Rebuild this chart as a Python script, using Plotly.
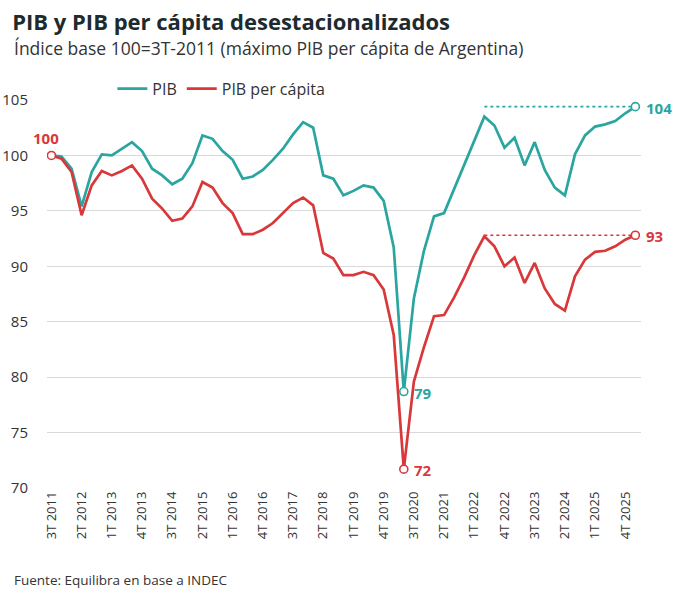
import plotly.graph_objects as go

# quarterly categories 3T 2011 .. 1T 2026
QUARTERS = (
    ["3T 2011", "4T 2011"]
    + [f"{q}T {y}" for y in range(2012, 2026) for q in (1, 2, 3, 4)]
    + ["1T 2026"]
)

PIB = [
    100.0, 99.9, 98.8, 95.4, 98.5, 100.1, 100.0, 100.6, 101.2, 100.4,
    98.8, 98.2, 97.4, 97.9, 99.3, 101.8, 101.5, 100.4, 99.6, 97.9,
    98.1, 98.7, 99.6, 100.6, 101.9, 103.0, 102.5, 98.2, 97.9, 96.4,
    96.8, 97.3, 97.1, 95.9, 91.7, 78.7, 87.1, 91.4, 94.5, 94.8,
    97.0, 99.2, 101.4, 103.5, 102.7, 100.7, 101.6, 99.1, 101.2, 98.7,
    97.1, 96.4, 100.1, 101.8, 102.6, 102.8, 103.1, 103.8, 104.4,
]

PIB_PC = [
    100.0, 99.7, 98.5, 94.6, 97.3, 98.6, 98.2, 98.6, 99.1, 97.9,
    96.1, 95.2, 94.1, 94.3, 95.4, 97.6, 97.1, 95.7, 94.8, 92.9,
    92.9, 93.3, 93.9, 94.8, 95.7, 96.2, 95.5, 91.2, 90.7, 89.2,
    89.2, 89.5, 89.2, 87.9, 83.8, 71.7, 79.6, 82.7, 85.5, 85.6,
    87.2, 89.0, 91.0, 92.7, 91.8, 90.0, 90.8, 88.5, 90.3, 88.0,
    86.6, 86.0, 89.1, 90.6, 91.3, 91.4, 91.8, 92.4, 92.8,
]

TICK_LABELS = QUARTERS[:-1:3]
Y_TICKS = [70, 75, 80, 85, 90, 95, 100, 105]

TEAL = "#2aa59f"
RED = "#d9383a"
FONT = "Open Sans"
TEXT = "#333333"

# post-pandemic peak (2T 2022) is where the dotted guides start
peak_i = 36 + PIB[36:50].index(max(PIB[36:50]))
low_i = PIB.index(min(PIB))
last_i = len(QUARTERS) - 1

fig = go.Figure()

fig.add_trace(go.Scatter(x=QUARTERS, y=PIB, mode="lines", name="PIB",
                         line=dict(color=TEAL, width=2.7)))
fig.add_trace(go.Scatter(x=QUARTERS, y=PIB_PC, mode="lines", name="PIB per cápita",
                         line=dict(color=RED, width=2.7)))

# dotted guides at the latest value, back to the 2022 peak
for series, color in [(PIB, TEAL), (PIB_PC, RED)]:
    fig.add_trace(go.Scatter(
        x=[QUARTERS[peak_i], QUARTERS[last_i]],
        y=[series[last_i], series[last_i]],
        mode="lines", line=dict(color=color, width=1.6, dash="dot"),
        showlegend=False, hoverinfo="skip",
    ))

# open circle markers
for series, color, idx in [(PIB, TEAL, [low_i, last_i]),
                           (PIB_PC, RED, [0, low_i, last_i])]:
    fig.add_trace(go.Scatter(
        x=[QUARTERS[i] for i in idx], y=[series[i] for i in idx],
        mode="markers", showlegend=False, hoverinfo="skip",
        marker=dict(size=8, color="white", line=dict(color=color, width=1.6)),
    ))

labels = [
    (QUARTERS[0], PIB_PC[0], "100", RED, -5, 17, "center"),
    (QUARTERS[low_i], PIB[low_i], "79", TEAL, 8, -1, "left"),
    (QUARTERS[low_i], PIB_PC[low_i], "72", RED, 8, -1, "left"),
    (QUARTERS[last_i], PIB[last_i], "104", TEAL, 9, -1, "left"),
    (QUARTERS[last_i], PIB_PC[last_i], "93", RED, 9, -1, "left"),
]
for x, y, txt, color, xs, ys, anchor in labels:
    fig.add_annotation(x=x, y=y, text=f"<b>{txt}</b>", showarrow=False,
                       xshift=xs, yshift=ys, xanchor=anchor,
                       font=dict(family=FONT, size=15, color=color))

fig.add_annotation(xref="paper", yref="paper", x=-0.059, y=1.0, yshift=52,
                   text="Índice base 100=3T-2011 (máximo PIB per cápita de Argentina)",
                   showarrow=False, xanchor="left", yanchor="middle",
                   font=dict(family=FONT, size=17.5, color=TEXT))
fig.add_annotation(xref="paper", yref="paper", x=-0.059, y=0.0, yshift=-92,
                   text="Fuente: Equilibra en base a INDEC",
                   showarrow=False, xanchor="left", yanchor="middle",
                   font=dict(family=FONT, size=13.5, color=TEXT))

fig.update_layout(
    title=dict(text="<b>PIB y PIB per cápita desestacionalizados</b>",
               x=0.018, xanchor="left", y=0.962, yanchor="middle",
               font=dict(family=FONT, size=22, color="#1d2b2f")),
    width=680, height=596,
    margin=dict(l=47, r=39, t=100, b=108),
    plot_bgcolor="white", paper_bgcolor="white",
    font=dict(family=FONT, size=13, color=TEXT),
    showlegend=True,
    legend=dict(orientation="h", x=0.11, y=0.985, xanchor="left", yanchor="bottom",
                font=dict(family=FONT, size=16, color=TEXT),
                itemwidth=30, traceorder="normal"),
)
fig.update_xaxes(
    type="category", categoryorder="array", categoryarray=QUARTERS,
    tickmode="array", tickvals=TICK_LABELS, ticktext=TICK_LABELS,
    tickangle=-90, range=[-0.44, last_i + 0.56], showgrid=False, showline=False,
    zeroline=False, automargin=False,
    tickfont=dict(family=FONT, size=13, color=TEXT),
)
fig.update_yaxes(
    range=[70, 105], tickvals=Y_TICKS, showgrid=True, gridcolor="#d9d9d9",
    gridwidth=1, zeroline=False, showline=False, ticklabelstandoff=18,
    automargin=False, tickfont=dict(family=FONT, size=15, color=TEXT),
)

# drop the browser's default body margin so the figure sits at the page corner
fig.write_html("out.html", config={"displayModeBar": False},
               post_script="document.body.style.margin = '0';")
